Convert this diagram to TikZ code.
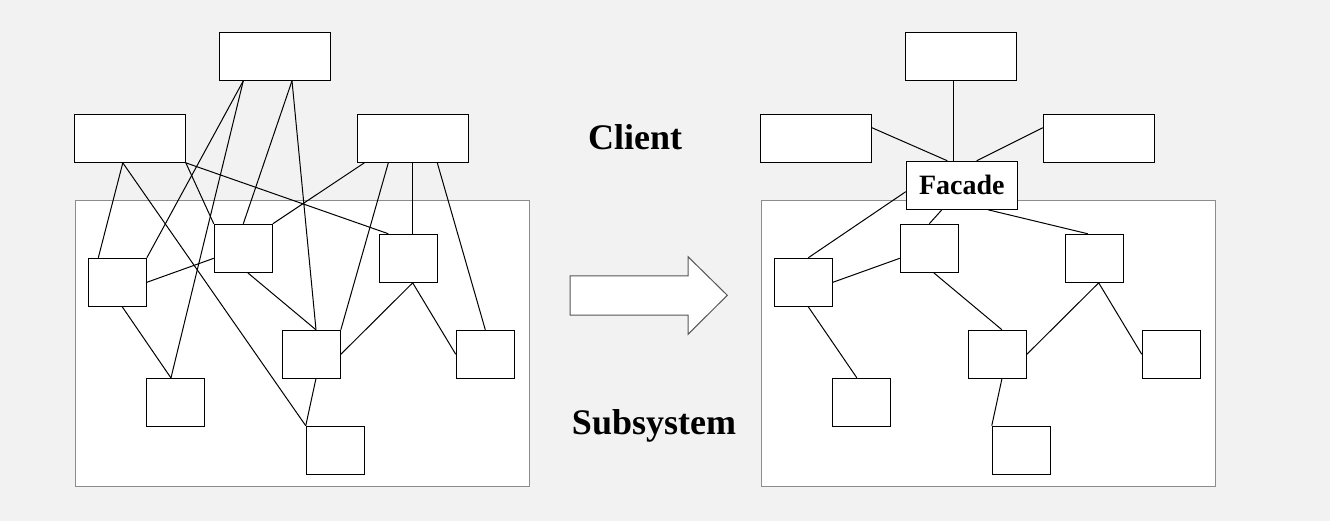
\documentclass[tikz,border=0pt]{standalone}
\usepackage{fontspec}
\setmainfont{Liberation Serif}
\usetikzlibrary{positioning}
\definecolor{canvas}{HTML}{F2F2F2}
\definecolor{framegray}{HTML}{8C8C8C}
\definecolor{arrowgray}{HTML}{555555}

\begin{document}
\begin{tikzpicture}
    [x=1pt,y=-1pt,
     client/.style={draw,fill=white,line width=1.1pt,minimum width=111pt,minimum height=48pt,inner sep=0pt},
     part/.style={draw,fill=white,line width=1.1pt,minimum width=58pt,minimum height=48pt,inner sep=0pt},
     subframe/.style={draw=framegray,fill=white,line width=1pt},
     link/.style={line width=1pt},
     bigword/.style={font=\bfseries\fontsize{36}{40}\selectfont}]
    \fill[canvas] (0,0) rectangle (1330,521);
    \useasboundingbox (0,0) rectangle (1330,521);

    % the two subsystem frames
    \draw[subframe] (75.3,200.3) rectangle (529.3,486.3);
    \draw[subframe] (761.3,200.3) rectangle (1215.3,486.3);

    % same boxes on both sides
    \foreach \s/\dx in {L/0,R/686} {
      \node[client] (\s T) at (274.8+\dx,56.3) {};
      \node[client] (\s C1) at (129.8+\dx,138.3) {};
      \node[client] (\s C2) at (412.8+\dx,138.3) {};
      \node[part] (\s1) at (117.3+\dx,282.3) {};
      \node[part] (\s2) at (243.3+\dx,248.3) {};
      \node[part] (\s3) at (408.3+\dx,258.3) {};
      \node[part] (\s4) at (311.3+\dx,354.3) {};
      \node[part] (\s5) at (485.3+\dx,354.3) {};
      \node[part] (\s6) at (175.3+\dx,402.3) {};
      \node[part] (\s7) at (335.3+\dx,450.3) {};
    }
    \node[client,font=\bfseries\fontsize{28}{32}\selectfont] (F) at (961.8,185.3) {Facade};

    \node[bigword] (client) at (635,137.5) {Client};
    \node[bigword] (subsys) at (654,426) {Subsystem};

    % big arrow in the middle
    \draw[arrowgray,fill=white,line width=1pt] (570,276) -- (688,276) -- (688,256.7)
          -- (727.3,295.3) -- (688,334.3) -- (688,315) -- (570,315) -- cycle;

    % left: clients talk to everything
    \draw[link] ([xshift=-31.5pt]LT.south) -- (L1.north east);
    \draw[link] ([xshift=-31.5pt]LT.south) -- ([xshift=-4.3pt]L6.north);
    \draw[link] ([xshift=17.2pt]LT.south) -- (L2.north);
    \draw[link] ([xshift=17.2pt]LT.south) -- ([xshift=4.7pt]L4.north);
    \draw[link] ([xshift=-7pt]LC1.south) -- ([xshift=-19pt]L1.north);
    \draw[link] ([xshift=-7pt]LC1.south) -- (L7.north west);
    \draw[link] (LC1.south east) -- (L2.north west);
    \draw[link] (LC1.south east) -- ([xshift=-20pt]L3.north);
    \draw[link] ([xshift=-48.5pt]LC2.south) -- (L2.north east);
    \draw[link] ([xshift=-24.5pt]LC2.south) -- (L4.north east);
    \draw[link] ([xshift=-0.5pt]LC2.south) -- ([xshift=4pt]L3.north);
    \draw[link] ([xshift=24.5pt]LC2.south) -- (L5.north);

    % right: clients only talk to the facade
    \draw[link] ([xshift=-7.5pt]RT.south) -- ([xshift=-8.5pt]F.north);
    \draw[link] ([yshift=10.6pt]RC1.east) -- ([xshift=-14.5pt]F.north);
    \draw[link] ([yshift=10.6pt]RC2.west) -- ([xshift=14.9pt]F.north);
    \draw[link] ([yshift=-6.4pt]F.west) -- ([xshift=5pt]R1.north);
    \draw[link] ([xshift=-20pt]F.south) -- (R2.north);
    \draw[link] ([xshift=26.5pt]F.south) -- ([xshift=-6.6pt]R3.north);

    % links inside both subsystems
    \foreach \s in {L,R} {
      \draw[link] (\s1.east) -- ([yshift=-10pt]\s2.west);
      \draw[link] ([xshift=5pt]\s1.south) -- ([xshift=-4.5pt]\s6.north);
      \draw[link] ([xshift=4.5pt]\s2.south) -- ([xshift=4.6pt]\s4.north);
      \draw[link] (\s4.east) -- ([xshift=4.4pt]\s3.south);
      \draw[link] ([xshift=4.4pt]\s3.south) -- (\s5.west);
      \draw[link] ([xshift=4.6pt]\s4.south) -- (\s7.north west);
    }
\end{tikzpicture}
\end{document}
